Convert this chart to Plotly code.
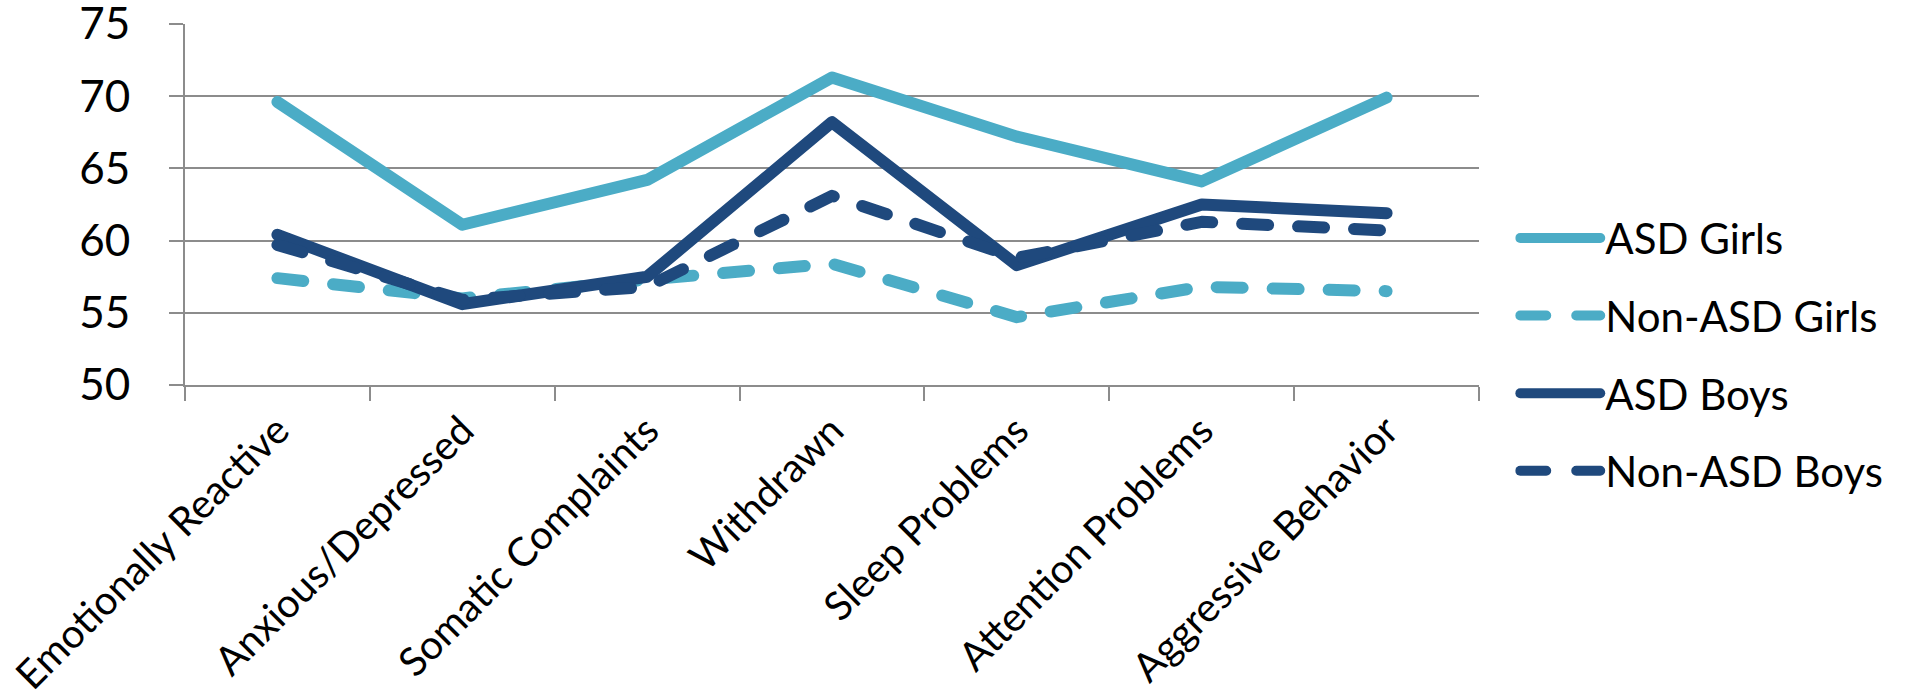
import plotly.graph_objects as go

# CBCL syndrome scales (T-scores) by group
categories = [
    "Emotionally Reactive",
    "Anxious/Depressed",
    "Somatic Complaints",
    "Withdrawn",
    "Sleep Problems",
    "Attention Problems",
    "Aggressive Behavior",
]
asd_girls = [69.6, 61.1, 64.2, 71.3, 67.2, 64.1, 69.9]
non_asd_girls = [57.4, 56.0, 57.3, 58.4, 54.7, 56.8, 56.5]
asd_boys = [60.4, 55.6, 57.5, 68.2, 58.3, 62.5, 61.9]
non_asd_boys = [59.7, 55.9, 56.8, 63.1, 58.8, 61.3, 60.7]

y_ticks = [50, 55, 60, 65, 70, 75]

LIGHT = "#4BACC6"
DARK = "#1F497D"
GRID = "#8c8c8c"
FONT = "Lato"
DASH = "26px,30px"

series = [
    ("ASD Girls", asd_girls, LIGHT, "solid"),
    ("Non-ASD Girls", non_asd_girls, LIGHT, DASH),
    ("ASD Boys", asd_boys, DARK, "solid"),
    ("Non-ASD Boys", non_asd_boys, DARK, DASH),
]

fig = go.Figure()
for name, vals, color, dash in series:
    fig.add_trace(go.Scatter(
        x=categories, y=vals, name=name, mode="lines",
        legendgroup=name,
        line=dict(color=color, width=12, dash=dash),
    ))

fig.update_layout(
    width=1912, height=696,
    margin=dict(l=185, r=433, t=24, b=311, autoexpand=False),
    paper_bgcolor="white", plot_bgcolor="white",
    font=dict(family=FONT, size=42, color="black"),
    showlegend=True,
    legend=dict(
        x=1.028, xanchor="left", y=0.084, yanchor="middle",
        itemwidth=80, tracegroupgap=20,
        font=dict(family=FONT, size=42, color="black"),
        bgcolor="rgba(0,0,0,0)",
    ),
    xaxis=dict(
        type="category", showgrid=False, automargin=False,
        showline=True, linecolor=GRID, linewidth=2,
        ticks="outside", tickson="boundaries", ticklen=14,
        tickcolor=GRID, tickwidth=2,
        tickangle=-45, ticklabelstandoff=4,
        ticklabeloverflow="allow",
        tickfont=dict(family=FONT, size=40, color="black"),
        range=[-0.5, len(categories) - 0.5],
    ),
    yaxis=dict(
        range=[50, 75], tickvals=y_ticks, automargin=False,
        showgrid=True, gridcolor=GRID, gridwidth=2,
        showline=True, linecolor=GRID, linewidth=2,
        ticks="outside", ticklen=14, tickcolor=GRID, tickwidth=2,
        ticklabelstandoff=30, zeroline=False,
        ticklabeloverflow="allow",
        tickfont=dict(family=FONT, size=44, color="black"),
    ),
)

# round line caps and joins on the series strokes and legend samples
round_caps = """
var gd = document.getElementById('{plot_id}');
function roundCaps() {
  gd.querySelectorAll('path.js-line').forEach(function (p) {
    p.style.strokeLinecap = 'round';
    p.style.strokeLinejoin = 'round';
  });
}
roundCaps();
gd.on('plotly_afterplot', roundCaps);
"""

fig.write_html("out.html", post_script=round_caps)
